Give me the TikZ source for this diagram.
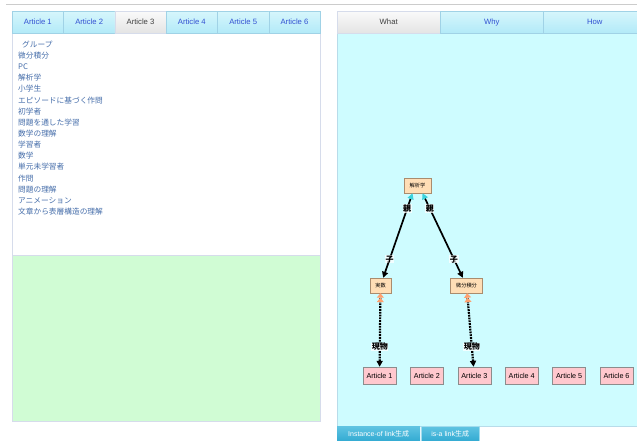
\documentclass[tikz,border=0pt]{standalone}
\usepackage{fontspec}
\setmainfont{Liberation Sans}
\newfontfamily\jp{Noto Sans CJK JP}
\usepackage{tikz}
\usetikzlibrary{arrows.meta}
\usetikzlibrary{positioning}
\definecolor{tabtop}{RGB}{214,246,252}
\definecolor{tabbot}{RGB}{178,234,248}
\definecolor{tabline}{RGB}{160,210,230}
\definecolor{tabtext}{RGB}{50,80,210}
\definecolor{seltop}{RGB}{250,250,250}
\definecolor{selbot}{RGB}{228,228,228}
\definecolor{panelline}{RGB}{214,220,235}
\definecolor{listtext}{RGB}{70,110,170}
\definecolor{greenbg}{RGB}{208,252,212}
\definecolor{cyanbg}{RGB}{206,252,255}
\definecolor{cyanline}{RGB}{184,220,234}
\definecolor{conceptfill}{RGB}{255,222,182}
\definecolor{conceptline}{RGB}{170,140,110}
\definecolor{artfill}{RGB}{255,200,206}
\definecolor{artline}{RGB}{140,140,140}
\definecolor{headcyan}{RGB}{60,210,220}
\definecolor{headsalmon}{RGB}{255,160,110}
\definecolor{btntop}{RGB}{96,196,226}
\definecolor{btnbot}{RGB}{50,170,210}

\begin{document}
\begin{tikzpicture}[x=1pt, y=-1pt,
  tab/.style={draw=tabline, top color=tabtop, bottom color=tabbot, text=tabtext,
    font=\fontsize{7.7}{9}\selectfont, minimum height=22pt, inner sep=0pt, anchor=north west},
  tabsel/.style={tab, top color=seltop, bottom color=selbot, draw=panelline, text=black!75},
  item/.style={font=\jp\fontsize{7.7}{9}\selectfont, text=listtext, anchor=west, inner sep=0pt},
  concept/.style={draw=conceptline, fill=conceptfill, font=\jp\fontsize{5.2}{6}\selectfont,
    minimum height=15pt, inner xsep=5.5pt, inner ysep=0pt},
  article/.style={draw=artline, fill=artfill, font=\fontsize{7.2}{9}\selectfont,
    minimum width=33pt, minimum height=17pt, inner sep=0pt},
  rel/.style={line width=1.7pt, {Triangle[color=headcyan, length=6pt, width=6pt]}-{Triangle[length=6pt, width=6pt]}},
  inst/.style={line width=2.2pt, dash pattern=on 1.8pt off 1pt,
    {Triangle[length=6pt, width=6pt]}-{Triangle[color=headsalmon, length=4.5pt, width=7pt] Triangle[color=headsalmon, length=4.5pt, width=7pt]}},
  lab/.style={font=\jp\bfseries\fontsize{8}{9}\selectfont, fill=white, fill opacity=0.75, text opacity=1, inner sep=0.6pt},
  button/.style={top color=btntop, bottom color=btnbot, text=white, font=\fontsize{7}{8}\selectfont,
    minimum height=15pt, inner sep=0pt, anchor=north west}]
\useasboundingbox (0,0) rectangle (637,441);
\fill[white] (0,0) rectangle (637,441);
\draw[black!20, line width=1.5pt] (6,4.5) -- (637,4.5);
% left panel
\draw[panelline] (12,33) rectangle (320,255);
\draw[panelline, fill=greenbg] (12,255) rectangle (320,421);
\foreach \i/\s in {1/tab, 2/tab, 3/tabsel, 4/tab, 5/tab, 6/tab}{
\node[\s, minimum width=51.33pt] (tab\i) at ({12+51.33*(\i-1)},11) {Article \i};}
\node[item] (item1) at (22,44.3) {グループ};
\foreach \t [count=\k from 2] in {微分積分, PC, 解析学, 小学生, エピソードに基づく作問, 初学者, 問題を通した学習, 数学の理解, 学習者, 数学, 単元未学習者, 作問, 問題の理解, アニメーション, 文章から表層構造の理解}{
\node[item] (item\k) at (18,{44.3+11.16*(\k-1)}) {\t};}
% right panel
\draw[cyanline, fill=cyanbg] (337,33) rectangle (645,426);
\foreach \t/\s [count=\i] in {What/tabsel, Why/tab, How/tab}{
\node[\s, minimum width=103pt] (view\i) at ({337+103*(\i-1)},11) {\t};}
\node[button, minimum width=83pt] (btn1) at (337,426) {Instance-of link{\jp 生成}};
\node[button, minimum width=58pt, draw=btntop!60] (btn2) at (421,426) {is-a link{\jp 生成}};
% graph
\node[concept] (kaiseki) at (417.5,185.5) {解析学};
\node[concept] (jissu) at (380.5,285.5) {実数};
\node[concept] (bibun) at (466.5,285.5) {微分積分};
\foreach \i in {1, 2, ..., 6}{
\node[article] (art\i) at ({379.5+47.4*(\i-1)},375.5) {Article \i};}
\draw[rel] ([xshift=-5pt]kaiseki.south) -- node[lab, pos=0.18]{親} node[lab, pos=0.78]{子} (jissu);
\draw[rel] ([xshift=5pt]kaiseki.south) -- node[lab, pos=0.18]{親} node[lab, pos=0.78]{子} (bibun);
\draw[inst] (art1) -- node[lab, pos=0.27]{現物} (jissu);
\draw[inst] (art3) -- node[lab, pos=0.27]{現物} (bibun);
\end{tikzpicture}
\end{document}
